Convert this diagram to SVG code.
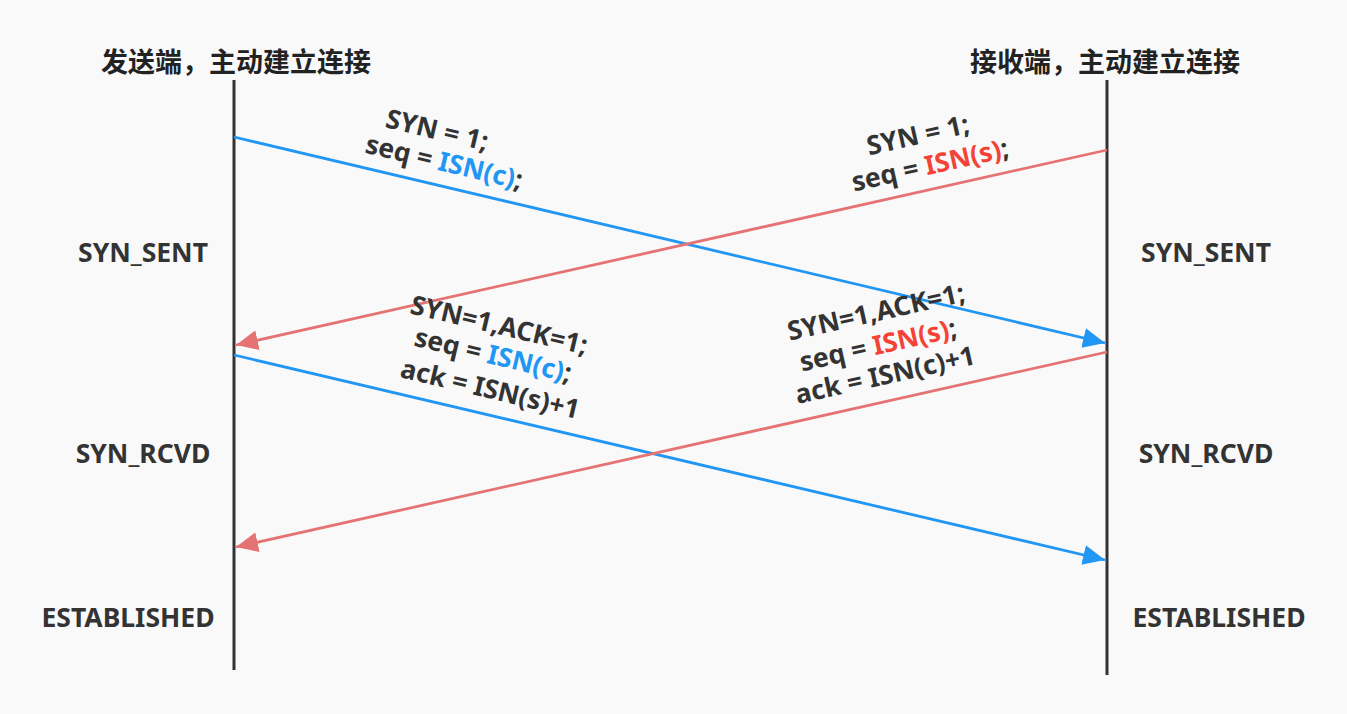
<svg xmlns="http://www.w3.org/2000/svg" width="1347" height="714" viewBox="0 0 1347 714">
<defs>
<style>
.t{font-family:"Noto Sans","Noto Sans CJK SC",sans-serif;font-weight:bold;font-size:26.5px;fill:#333;}
.h{font-family:"Noto Sans CJK SC","Noto Sans",sans-serif;font-weight:bold;font-size:27px;fill:#222;}
.b{fill:#2196f3;}
.r{fill:#f44336;}
.life{stroke:#333;stroke-width:3;}
.lb{stroke:#2196f3;stroke-width:2.8;fill:none;}
.lr{stroke:#e57373;stroke-width:2.8;fill:none;}
</style>
<marker id="ab" markerUnits="userSpaceOnUse" markerWidth="24" markerHeight="20" refX="22" refY="10" orient="auto"><path d="M0,0 L22,10 L0,20 Z" fill="#2196f3"/></marker>
<marker id="ar" markerUnits="userSpaceOnUse" markerWidth="24" markerHeight="20" refX="22" refY="10" orient="auto"><path d="M0,0 L22,10 L0,20 Z" fill="#e57373"/></marker>
</defs>
<rect width="1347" height="714" fill="#f9f9f9"/>
<g id="left-host">
<text class="h" x="236" y="72" text-anchor="middle">发送端，主动建立连接</text>
<line class="life" x1="234" y1="80" x2="234" y2="670"/>
<text class="t" x="143" y="262" text-anchor="middle">SYN_SENT</text>
<text class="t" x="143" y="463" text-anchor="middle">SYN_RCVD</text>
<text class="t" x="128" y="627" text-anchor="middle">ESTABLISHED</text>
</g>
<g id="right-host">
<text class="h" x="1105" y="72" text-anchor="middle">接收端，主动建立连接</text>
<line class="life" x1="1107" y1="80" x2="1107" y2="675"/>
<text class="t" x="1206" y="262" text-anchor="middle">SYN_SENT</text>
<text class="t" x="1206" y="463" text-anchor="middle">SYN_RCVD</text>
<text class="t" x="1219" y="627" text-anchor="middle">ESTABLISHED</text>
</g>
<g id="connectors">
<line class="lb" x1="234" y1="137" x2="1105" y2="343" marker-end="url(#ab)"/>
<line class="lr" x1="1107" y1="150" x2="236" y2="345" marker-end="url(#ar)"/>
<line class="lb" x1="234" y1="355" x2="1105" y2="560" marker-end="url(#ab)"/>
<line class="lr" x1="1107" y1="352" x2="236" y2="547" marker-end="url(#ar)"/>
</g>
<g id="label-syn-c">
<text class="t" text-anchor="middle" transform="translate(435,139) rotate(13.3)">SYN = 1;</text>
<text class="t" text-anchor="middle" transform="translate(442,171) rotate(13.3)">seq = <tspan class="b">ISN(c)</tspan>;</text>
</g>
<g id="label-syn-s">
<text class="t" text-anchor="middle" transform="translate(920,144) rotate(-12.6)">SYN = 1;</text>
<text class="t" text-anchor="middle" transform="translate(932,174) rotate(-12.6)">seq = <tspan class="r">ISN(s)</tspan>;</text>
</g>
<g id="label-synack-c">
<text class="t" text-anchor="middle" transform="translate(497,334) rotate(13.3)">SYN=1,ACK=1;</text>
<text class="t" text-anchor="middle" transform="translate(491,364) rotate(13.3)">seq = <tspan class="b">ISN(c)</tspan>;</text>
<text class="t" text-anchor="middle" transform="translate(488,398) rotate(13.3)">ack = ISN(s)+1</text>
</g>
<g id="label-synack-s">
<text class="t" text-anchor="middle" transform="translate(878,321) rotate(-12.6)">SYN=1,ACK=1;</text>
<text class="t" text-anchor="middle" transform="translate(880,354) rotate(-12.6)">seq = <tspan class="r">ISN(s)</tspan>;</text>
<text class="t" text-anchor="middle" transform="translate(887,384) rotate(-12.6)">ack = ISN(c)+1</text>
</g>
</svg>
